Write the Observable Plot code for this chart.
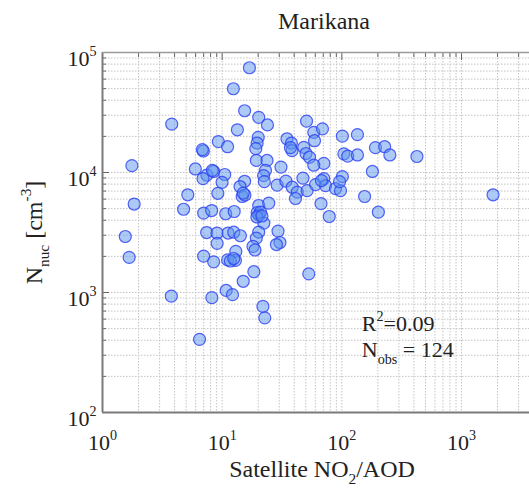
<!DOCTYPE html>
<html><head><meta charset="utf-8">
<script src="https://cdn.jsdelivr.net/npm/d3@7"></script>
<script src="https://cdn.jsdelivr.net/npm/@observablehq/plot@0.6"></script>
<style>body{margin:0;background:#fff} svg{display:block}</style>
</head><body><div id="chart"></div>
<script>
const title = "Marikana";
const xLabel = "Satellite NO_{2}/AOD";
const yLabel = "N_{nuc} [cm^{-3}]";
const r2Label = "R^{2}=0.09";
const nLabel = "N_{obs} = 124";

const xValues = [1.76,1.84,1.55,1.67,3.79,3.76,16.9,12.4,15.4,20.2,23.9,13.4,9.29,11.1,6.96,6.83,20.0,19.6,19.1,34.8,37.9,38.3,48.1,50.2,53.7,50.7,58.3,68.9,59.1,101,135,104,112,135,191,228,252,424,70.7,58.3,180,19.3,23.7,23.0,31.0,
5.97,7.45,6.92,8.49,10.5,9.98,22.2,22.5,28.8,34.1,38.5,42.4,41.0,47.3,51.3,60.3,70.7,73.1,88.5,97.5,101,95.7,67.0,78.5,155,202,1835,15.4,14.1,14.7,15.5,5.16,9.20,4.76,7.00,8.17,10.7,12.6,20.2,24.5,19.6,20.3,20.9,22.3,7.42,9.06,11.2,12.5,14.2,9.08,20.2,19.3,18.1,18.8,29.3,30.4,28.4,7.00,8.49,11.1,13.0,12.9,11.7,18.4,15.0,52.9,8.20,10.8,12.2,21.9,22.7,6.47,67.6,19.5,15.0,12.5,37.2,8.28,21.5];
const yValues = [11400,5460,2930,1960,25300,933,74600,49900,32700,28800,24900,22700,18100,16400,15100,15500,19600,17600,15800,19100,17600,15200,16200,14400,13400,26800,21600,23100,18400,20100,20700,14300,13700,14000,16100,16400,14000,13600,11900,11500,10200,12600,12600,10400,11100,
10700,9510,8890,10200,9620,8280,9420,8390,7850,8470,7540,6870,6070,8980,7060,7930,8890,7780,7340,7060,9250,8390,5510,4300,6310,4670,6520,8450,7640,6310,6490,6520,6710,4940,4590,4820,4530,4730,5310,5560,4630,4420,4670,3790,3160,3130,3130,3180,2970,2570,3190,2840,2420,2260,3250,2610,2510,2010,1800,1870,2200,1850,1830,1490,1240,1430,906,1040,960,766,615,407,8570,4260,6740,1920,16100,10400,4340];

const xDecades = [1, 10, 100, 1000];
const yDecades = [100, 1000, 10000, 100000];
const xMinor = [2,3,4,5,6,7,8,9,20,30,40,50,60,70,80,90,200,300,400,500,600,700,800,900,2000,3000];
const yMinor = [200,300,400,500,600,700,800,900,2000,3000,4000,5000,6000,7000,8000,9000,20000,30000,40000,50000,60000,70000,80000,90000];

const points = xValues.map((x, i) => ({x, y: yValues[i]}));
const fmt = d => "10^{" + Math.round(Math.log10(d)) + "}";
const gridStyle = {stroke: "#c4c4c4", strokeOpacity: 1, strokeWidth: 1, strokeDasharray: "1.5,1.5"};

const chart = Plot.plot({
  width: 529, height: 489,
  marginLeft: 102, marginRight: 0, marginTop: 52, marginBottom: 77,
  style: {fontFamily: "'Liberation Serif', 'Times New Roman', serif", background: "#fff", color: "#222"},
  x: {type: "log", domain: [1, 3700]},
  y: {type: "log", domain: [100, 100000]},
  marks: [
    Plot.gridX(xMinor, gridStyle),
    Plot.gridX(xDecades, gridStyle),
    Plot.gridY(yMinor, gridStyle),
    Plot.gridY(yDecades, gridStyle),
    // inward ticks (left and top)
    Plot.axisY(yDecades, {anchor: "left", tickSize: 7, dx: 7, tickFormat: () => "", stroke: "#666", label: null}),
    Plot.axisY(yMinor, {anchor: "left", tickSize: 4, dx: 4, tickFormat: () => "", stroke: "#666", label: null}),
    Plot.axisX(xDecades, {anchor: "top", tickSize: 7, dy: 7, tickFormat: () => "", stroke: "#666", label: null}),
    Plot.axisX(xMinor, {anchor: "top", tickSize: 4, dy: 4, tickFormat: () => "", stroke: "#666", label: null}),
    // tick labels
    Plot.axisY(yDecades, {anchor: "left", tickSize: 0, tickPadding: 6, dy: 6, fontSize: 22, tickFormat: fmt, label: null}),
    Plot.axisX(xDecades, {anchor: "bottom", tickSize: 0, tickPadding: 22, fontSize: 22, tickFormat: fmt, label: null}),
    // frame lines
    Plot.ruleX([1], {stroke: "#7a7a7a", strokeWidth: 2}),
    Plot.ruleY([100], {stroke: "#7a7a7a", strokeWidth: 2}),
    Plot.ruleY([100000], {stroke: "#9a9a9a", strokeWidth: 1.5}),
    // points
    Plot.dot(points, {x: "x", y: "y", r: 6, fill: "#5b93eb", fillOpacity: 0.5, stroke: "#2c3ff2", strokeOpacity: 0.8, strokeWidth: 1.2}),
    // texts
    Plot.text([title], {frameAnchor: "top", textAnchor: "middle", lineAnchor: "middle", dx: 8, dy: -31, fontSize: 24}),
    Plot.text([xLabel], {frameAnchor: "bottom", textAnchor: "middle", lineAnchor: "middle", dx: 6, dy: 57, fontSize: 24}),
    Plot.text([yLabel], {frameAnchor: "left", textAnchor: "middle", lineAnchor: "middle", dx: -68, dy: 0, rotate: -90, fontSize: 24}),
    Plot.text([r2Label], {x: [147], y: [550], textAnchor: "start", lineAnchor: "middle", fontSize: 22}),
    Plot.text([nLabel], {x: [147], y: [329], textAnchor: "start", lineAnchor: "middle", fontSize: 22})
  ]
});

// convert ^{..} and _{..} markup into real superscript/subscript tspans
function richify(el) {
  const s = el.textContent;
  if (!/[_^]\{/.test(s)) return;
  const fs = parseFloat(getComputedStyle(el).fontSize) || 22;
  const parts = [];
  const re = /([_^])\{([^}]*)\}/g;
  let last = 0, m;
  while ((m = re.exec(s))) {
    if (m.index > last) parts.push({t: s.slice(last, m.index), k: ""});
    parts.push({t: m[2], k: m[1]});
    last = re.lastIndex;
  }
  if (last < s.length) parts.push({t: s.slice(last), k: ""});
  el.textContent = "";
  let shift = 0;
  for (const p of parts) {
    const ts = document.createElementNS("http://www.w3.org/2000/svg", "tspan");
    const target = p.k === "^" ? -0.45 * fs : p.k === "_" ? 0.3 * fs : 0;
    ts.setAttribute("dy", (target - shift).toFixed(2));
    shift = target;
    if (p.k) ts.setAttribute("font-size", (0.64 * fs).toFixed(1));
    ts.textContent = p.t;
    el.appendChild(ts);
  }
}
document.getElementById("chart").appendChild(chart);
chart.querySelectorAll("text").forEach(richify);
</script>
</body></html>
